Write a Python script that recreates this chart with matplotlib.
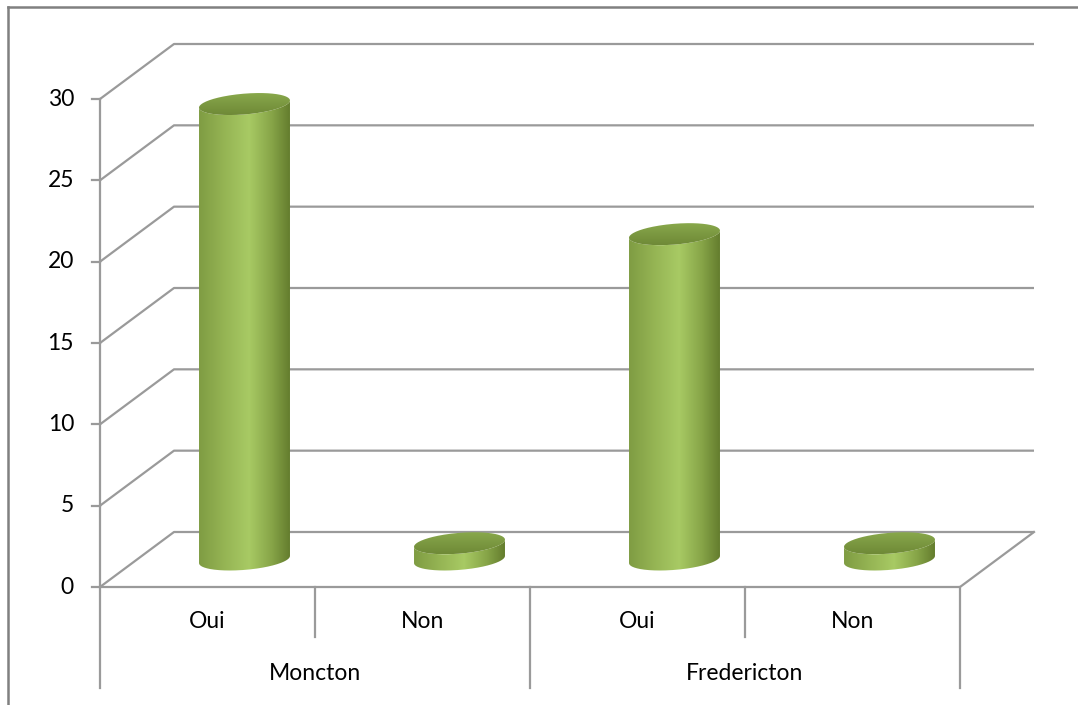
import numpy as np
import matplotlib.pyplot as plt
from matplotlib.patches import PathPatch
from matplotlib.path import Path
from matplotlib.lines import Line2D
from matplotlib.colors import LinearSegmentedColormap

# données
villes = ["Moncton", "Fredericton"]
reponses = ["Oui", "Non"]
valeurs = [28, 1, 20, 1]
graduations = [0, 5, 10, 15, 20, 25, 30]

W, H = 1078, 705
plt.rcParams['font.family'] = ['Lato', 'DejaVu Sans']

fig = plt.figure(figsize=(W / 100, H / 100), dpi=100)
# plan avant du graphique 3D (x: 4 catégories, y: 0..30)
ax = fig.add_axes([100 / W, (H - 587) / H, 860 / W, 488 / H])
ax.set_xlim(0, 4)
ax.set_ylim(0, 30)
ax.axis('off')

# conversion pixels -> unités de données, et vecteur de profondeur
sx = 4 / 860
sy = 30 / 488
ddx, ddy = 74 * sx, 55 * sy

def P(x, y, d=0.0):
    return x + d * ddx, y + d * ddy

GRIS = '#9a9a9a'
lw = 1.6
FS = 16.5

# murs: quadrillage en perspective
for v in graduations:
    x0, y0 = P(0, v, 0)
    x1, y1 = P(0, v, 1)
    x2, y2 = P(4, v, 1)
    ax.plot([x0, x1, x2], [y0, y1, y2], color=GRIS, lw=lw, clip_on=False, zorder=1,
            solid_capstyle='butt')
    # petits traits de graduation
    ax.plot([-8 * sx, 0], [v, v], color=GRIS, lw=lw, clip_on=False, zorder=1)
    ax.text(-26 * sx, v, str(v), ha='right', va='center', fontsize=FS, color='black')

# axe vertical et plancher
ax.plot([0, 0], [30, -101 * sy], color=GRIS, lw=lw, clip_on=False, zorder=1)
xa, ya = P(4, 0, 1)
ax.plot([0, 4, xa], [0, 0, ya], color=GRIS, lw=lw, clip_on=False, zorder=1)

# séparateurs des catégories
for x in [2, 4]:
    ax.plot([x, x], [0, -101 * sy], color=GRIS, lw=lw, clip_on=False, zorder=1)
for x in [1, 3]:
    ax.plot([x, x], [0, -50 * sy], color=GRIS, lw=lw, clip_on=False, zorder=1)

for i, ville in enumerate(villes):
    for j, rep in enumerate(reponses):
        ax.text(2 * i + j + 0.5, -34 * sy, rep, ha='center', va='center', fontsize=FS)
    ax.text(2 * i + 1, -86 * sy, ville, ha='center', va='center', fontsize=FS)

# cylindres
corps_cmap = LinearSegmentedColormap.from_list('corps', [
    (0.0, '#7f9c43'), (0.25, '#93b252'), (0.55, '#a8ca64'),
    (0.8, '#87a548'), (1.0, '#647d2e')])
dessus_cmap = LinearSegmentedColormap.from_list('dessus', ['#6f8a37', '#7b9841', '#88a84b'])

a = 43 * sx      # demi-largeur
rd = 0.2         # demi-profondeur (fraction de la profondeur)
th_r = np.arctan2(rd * ddx, a)
th_l = th_r + np.pi

def ellipse(cx, yb, t):
    return cx + a * np.cos(t) + rd * ddx * np.sin(t), yb + rd * ddy * np.sin(t)

for k, v in enumerate(valeurs):
    cx, y0 = P(k + 0.5, 0, 0.5)
    y1 = y0 + v
    t = np.linspace(th_l, th_r + 2 * np.pi, 120)
    bx, by = ellipse(cx, y0, t)
    tx, ty = ellipse(cx, y1, t[::-1])
    verts = np.column_stack([np.r_[bx, tx], np.r_[by, ty]])
    corps = PathPatch(Path(verts), facecolor='none', edgecolor='none', zorder=3,
                      clip_on=False)
    ax.add_patch(corps)
    xl, xr = bx[0], bx[-1]
    grad = np.linspace(0, 1, 256).reshape(1, -1)
    im = ax.imshow(grad, cmap=corps_cmap, extent=[xl, xr, y0 - 1, y1 + 1],
                   aspect='auto', zorder=3, interpolation='bilinear')
    im.set_clip_box(fig.bbox)
    im.set_clip_path(corps)

    tt = np.linspace(0, 2 * np.pi, 200)
    ex, ey = ellipse(cx, y1, tt)
    dessus = PathPatch(Path(np.column_stack([ex, ey])), facecolor='none',
                       edgecolor='none', zorder=4, clip_on=False)
    ax.add_patch(dessus)
    gv = np.linspace(1, 0, 64).reshape(-1, 1)
    im2 = ax.imshow(gv, cmap=dessus_cmap, extent=[ex.min(), ex.max(), ey.min(), ey.max()],
                    aspect='auto', zorder=4, interpolation='bilinear', origin='upper')
    im2.set_clip_box(fig.bbox)
    im2.set_clip_path(dessus)

ax.set_xlim(0, 4)
ax.set_ylim(0, 30)

# cadre de la zone du graphique
fig.add_artist(Line2D([8 / W, 1], [1 - 7 / H, 1 - 7 / H], color='#808080', lw=1.8))
fig.add_artist(Line2D([8 / W, 8 / W], [0, 1 - 7 / H], color='#808080', lw=1.8))

fig.savefig('out.png', dpi=100)
